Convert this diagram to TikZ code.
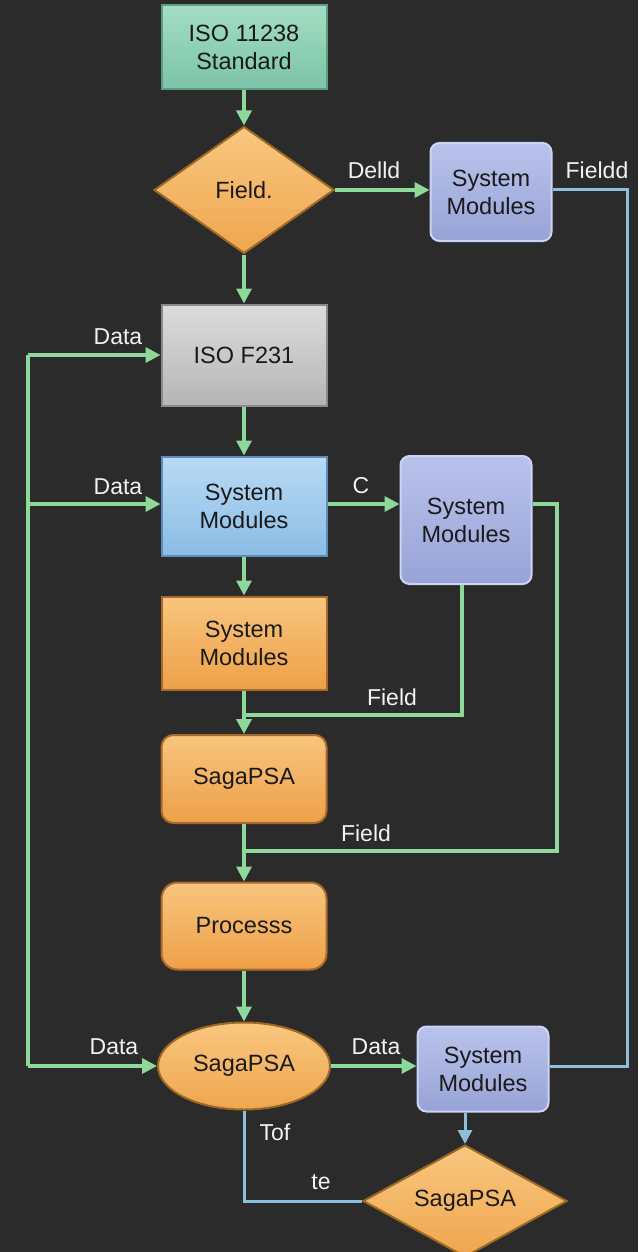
\documentclass[tikz,border=0pt]{standalone}
\usepackage{fontspec}
\setmainfont{Liberation Sans}
\usetikzlibrary{shapes.geometric,arrows.meta}
\definecolor{bg}{HTML}{2B2B2B}
\definecolor{garr}{HTML}{8ED99A}
\definecolor{barr}{HTML}{8FBEDC}
\definecolor{lbl}{HTML}{F2F2F2}
\definecolor{txt}{HTML}{1A1A1A}
\definecolor{HTML5E9C86}{HTML}{5E9C86}
\definecolor{HTMLA3DEC4}{HTML}{A3DEC4}
\definecolor{HTML7CC3A7}{HTML}{7CC3A7}
\definecolor{HTML8A8A8A}{HTML}{8A8A8A}
\definecolor{HTMLDCDCDC}{HTML}{DCDCDC}
\definecolor{HTMLB5B5B5}{HTML}{B5B5B5}
\definecolor{HTML5C8DBB}{HTML}{5C8DBB}
\definecolor{HTMLB8DBF5}{HTML}{B8DBF5}
\definecolor{HTML8BBCE4}{HTML}{8BBCE4}
\definecolor{HTMLCCD4F6}{HTML}{CCD4F6}
\definecolor{HTMLBAC3EC}{HTML}{BAC3EC}
\definecolor{HTML97A3D6}{HTML}{97A3D6}
\definecolor{HTMLA86A2C}{HTML}{A86A2C}
\definecolor{HTMLF8C57E}{HTML}{F8C57E}
\definecolor{HTMLEEA048}{HTML}{EEA048}
\definecolor{HTML9C6A26}{HTML}{9C6A26}
\definecolor{HTMLF9C780}{HTML}{F9C780}
\definecolor{HTMLEFA64E}{HTML}{EFA64E}
\tikzset{
  base/.style={font=\fontsize{23.5}{28}\selectfont, text=txt, align=center, inner sep=0pt, line width=2pt},
  greenbox/.style={base, draw=HTML5E9C86, top color=HTMLA3DEC4, bottom color=HTML7CC3A7, minimum width=165pt, minimum height=84pt},
  graybox/.style={base, draw=HTML8A8A8A, top color=HTMLDCDCDC, bottom color=HTMLB5B5B5, minimum width=165pt, minimum height=101pt},
  bluebox/.style={base, draw=HTML5C8DBB, top color=HTMLB8DBF5, bottom color=HTML8BBCE4, minimum width=165pt, minimum height=99pt},
  lavbox/.style={base, draw=HTMLCCD4F6, top color=HTMLBAC3EC, bottom color=HTML97A3D6, rounded corners=9pt},
  orbox/.style={base, draw=HTMLA86A2C, top color=HTMLF8C57E, bottom color=HTMLEEA048, minimum width=165pt},
  ordia/.style={base, diamond, draw=HTML9C6A26, top color=HTMLF9C780, bottom color=HTMLEFA64E},
  orell/.style={base, ellipse, draw=HTML9C6A26, top color=HTMLF9C780, bottom color=HTMLEFA64E},
  garrow/.style={draw=garr, line width=3.4pt, -{Triangle[length=15pt,width=15pt]}},
  gline/.style={draw=garr, line width=3.4pt},
  barrow/.style={draw=barr, line width=3pt, -{Triangle[length=14pt,width=14pt]}},
  bline/.style={draw=barr, line width=3pt},
  lab/.style={font=\fontsize{23}{27}\selectfont, text=lbl, inner sep=0pt}
}
\begin{document}
\begin{tikzpicture}[x=1pt,y=-1pt]
\fill[bg] (0,0) rectangle (638,1252);
\useasboundingbox (0,0) rectangle (638,1252);

% nodes
\node[greenbox] (iso) at (244,47) {ISO 11238\\Standard};
\node[ordia, minimum width=180pt, minimum height=127pt, aspect=1.42] (dia1) at (244,190) {Field.};
\node[lavbox, minimum width=121pt, minimum height=98pt] (sm1) at (491,192) {System\\Modules};
\node[graybox] (isof) at (244,355) {ISO F231};
\node[bluebox] (sm2) at (244,506) {System\\Modules};
\node[lavbox, minimum width=131pt, minimum height=128pt] (sm3) at (466,520) {System\\Modules};
\node[orbox, minimum height=93pt] (sm4) at (244,643) {System\\Modules};
\node[orbox, minimum height=88pt, rounded corners=12pt] (saga1) at (244,779) {SagaPSA};
\node[orbox, minimum height=87pt, rounded corners=16pt] (proc) at (244,926) {Processs};
\node[orell, minimum width=172pt, minimum height=87pt] (ell) at (244,1066) {SagaPSA};
\node[lavbox, minimum width=131pt, minimum height=85pt] (sm5) at (483,1069) {System\\Modules};
\node[ordia, minimum width=204pt, minimum height=112pt, aspect=1.82] (dia2) at (465,1201) {SagaPSA};

% coordinates
\coordinate (lt) at (28,355);
\coordinate (lm) at (28,504);
\coordinate (lb) at (28,1066);
\coordinate (rt) at (627,190);
\coordinate (rb) at (627,1066);
\coordinate (j1) at (244,715);
\coordinate (j1r) at (462,715);
\coordinate (j2) at (244,851);
\coordinate (g2t) at (557,504);
\coordinate (g2b) at (557,851);

% green connectors
\draw[garrow] (iso) -- (dia1);
\draw[garrow] (dia1.east) -- (dia1.east -| sm1.west);
\draw[garrow] (dia1) -- (isof);
\draw[garrow] (isof) -- (sm2);
\draw[garrow] (sm2.east |- lm) -- (sm3.west |- lm);
\draw[garrow] (sm2) -- (sm4);
\draw[gline] (sm4) -- (j1);
\draw[garrow] (j1) -- (saga1);
\draw[gline] (sm3.south -| j1r) -- (j1r) -- (j1);
\draw[gline] (saga1) -- (j2);
\draw[garrow] (j2) -- (proc);
\draw[gline] (sm3.east |- g2t) -- (g2t) -- (g2b) -- (j2);
\draw[garrow] (proc) -- (ell);
\draw[gline] (lb) -- (lt);
\draw[garrow] (lt) -- (isof.west |- lt);
\draw[garrow] (lm) -- (sm2.west |- lm);
\draw[garrow] (lb) -- (ell.west);
\draw[garrow] (ell.east) -- (sm5.west |- ell.east);

% blue connectors
\draw[bline] (sm1.east |- rt) -- (rt) -- (rb) -- (sm5.east |- rb);
\draw[barrow] (sm5.south -| dia2.north) -- (dia2.north);
\draw[bline] (ell.south) |- (dia2.west);

% labels
\node[lab] (l1) at (374,170) {Delld};
\node[lab] (l2) at (597,170) {Fieldd};
\node[lab] (l3) at (118,337) {Data};
\node[lab] (l4) at (118,487) {Data};
\node[lab] (l5) at (361,486) {C};
\node[lab] (l6) at (392,697) {Field};
\node[lab] (l7) at (366,833) {Field};
\node[lab] (l8) at (114,1047) {Data};
\node[lab] (l9) at (376,1047) {Data};
\node[lab] (l10) at (275,1132) {Tof};
\node[lab] (l11) at (321,1182) {te};
\end{tikzpicture}
\end{document}
